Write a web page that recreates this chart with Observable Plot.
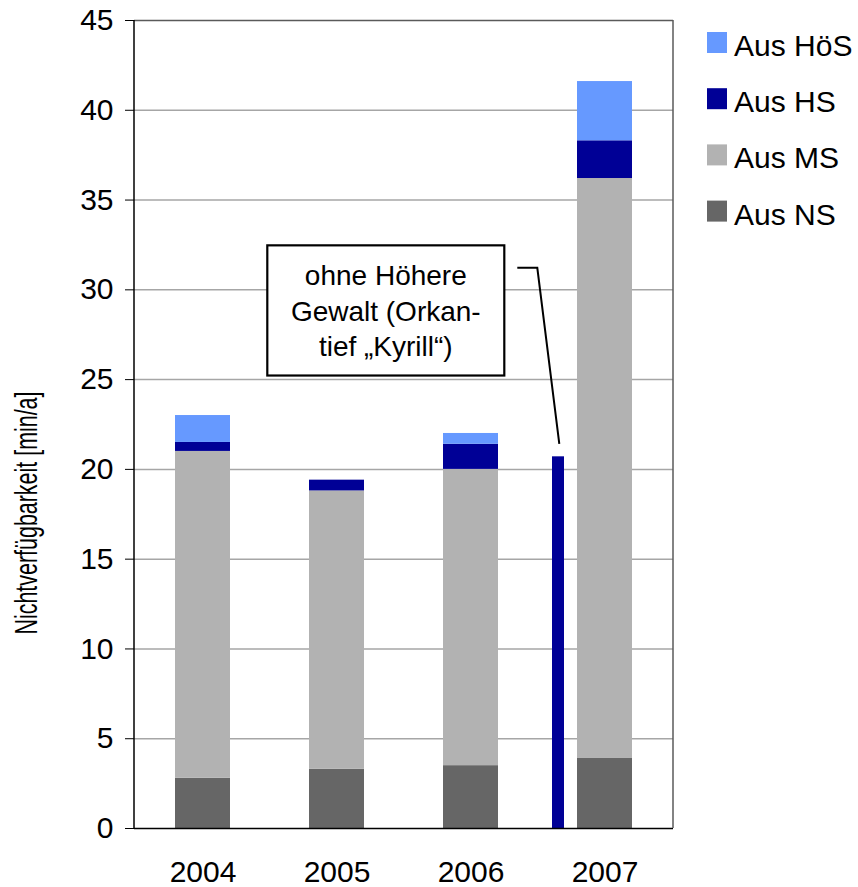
<!DOCTYPE html>
<html><head><meta charset="utf-8">
<script src="https://cdn.jsdelivr.net/npm/d3@7"></script>
<script src="https://cdn.jsdelivr.net/npm/@observablehq/plot@0.6"></script>
<style>
body{margin:0;background:#fff;}
#wrap{position:relative;width:858px;height:887px;}
</style>
</head><body><div id="wrap"></div>
<script>
// ---- data ----
const years = ["2004", "2005", "2006", "2007"];
const seriesNames = ["Aus NS", "Aus MS", "Aus HS", "Aus HöS"]; // bottom -> top
const seriesColors = ["#666666", "#b2b2b2", "#000096", "#6699ff"];
const ausNS  = [2.8, 3.3, 3.5, 3.9];
const ausMS  = [18.2, 15.5, 16.5, 32.3];
const ausHS  = [0.5, 0.6, 1.4, 2.1];
const ausHoS = [1.5, 0.0, 0.6, 3.3];
const ohneHoehereGewalt = [{year: "2007", value: 20.7}];
const yTicks = [0, 5, 10, 15, 20, 25, 30, 35, 40, 45];
const yLabel = "Nichtverfügbarkeit [min/a]";
const annotationLines = ["ohne Höhere", "Gewalt (Orkan-", "tief „Kyrill“)"];
const legendOrder = ["Aus HöS", "Aus HS", "Aus MS", "Aus NS"];

const seriesValues = [ausNS, ausMS, ausHS, ausHoS];
const rows = years.flatMap((yr, i) => seriesNames.map((s, j) => ({year: yr, series: s, value: seriesValues[j][i]})));

const FONT = "'Liberation Sans', Arial, Helvetica, sans-serif";

const plot = Plot.plot({
  width: 858, height: 887,
  marginLeft: 134, marginRight: 185, marginTop: 20, marginBottom: 59,
  style: {fontFamily: FONT, fontSize: "30px", color: "#000", background: "transparent", overflow: "visible"},
  x: {domain: years, paddingInner: 0.587, paddingOuter: 0.2935, label: null},
  y: {domain: [0, 45], label: null},
  color: {domain: seriesNames, range: seriesColors},
  marks: [
    Plot.gridY(yTicks.filter(t => t > 0 && t < 45), {stroke: "#a6a6a6", strokeOpacity: 1, strokeWidth: 1.5}),
    Plot.barY(rows, {x: "year", y: "value", fill: "series", order: seriesNames}),
    Plot.barY(ohneHoehereGewalt, {x: "year", y: "value", fill: "#000096", dx: -46.5, insetLeft: 21.5, insetRight: 21.5}),
    Plot.ruleY([45], {stroke: "#5a5a5a", strokeWidth: 1.5}),
    Plot.ruleY([0], {stroke: "#000", strokeWidth: 1.5}),
    Plot.axisY({ticks: yTicks, tickSize: 9, tickPadding: 12, fontSize: 30, label: null, stroke: "#000"}),
    Plot.axisX({tickSize: 0, tickPadding: 32, fontSize: 30, label: null})
  ]
});
document.getElementById("wrap").appendChild(plot);

const svg = d3.select(plot);
const xS = plot.scale("x"), yS = plot.scale("y"), cS = plot.scale("color");
const [xL, xR] = xS.range;
const yTop = yS.apply(45), yBot = yS.apply(0);

// frame lines
svg.append("line").attr("x1", xR).attr("x2", xR).attr("y1", yTop).attr("y2", yBot)
  .attr("stroke", "#5a5a5a").attr("stroke-width", 1.5);
svg.append("line").attr("x1", xL).attr("x2", xL).attr("y1", yTop).attr("y2", yBot)
  .attr("stroke", "#000").attr("stroke-width", 1.5);

// y-axis title
svg.append("text")
  .attr("transform", `translate(37,513) rotate(-90)`)
  .attr("text-anchor", "middle")
  .attr("font-family", FONT).attr("font-size", 31)
  .attr("textLength", 243).attr("lengthAdjust", "spacingAndGlyphs")
  .attr("fill", "#000")
  .text(yLabel);

// legend
const lg = svg.append("g").attr("text-anchor", "start");
legendOrder.forEach((name, i) => {
  const y0 = 32 + i * 56.2;
  lg.append("rect").attr("x", 707).attr("y", y0).attr("width", 20).attr("height", 21).attr("fill", cS.apply(name));
  lg.append("text").attr("x", 734).attr("y", y0 + 24).attr("text-anchor", "start")
    .attr("font-family", FONT).attr("font-size", 30).attr("fill", "#000").text(name);
});

// annotation
const cx = xS.apply("2007") + xS.bandwidth / 2 - 46.5;
const boxL = cx - 290.7, boxR = cx - 53.7;
const boxT = yS.apply(32.45), boxB = yS.apply(25.2);
const ann = svg.append("g");
ann.append("polyline")
  .attr("points", [[cx - 40.7, yS.apply(31.2)], [cx - 20.7, yS.apply(31.2)], [cx + 1.3, yS.apply(21.4)]].map(p => p.join(",")).join(" "))
  .attr("fill", "none").attr("stroke", "#000").attr("stroke-width", 2);
ann.append("rect").attr("x", boxL).attr("y", boxT).attr("width", boxR - boxL).attr("height", boxB - boxT)
  .attr("fill", "#fff").attr("stroke", "#000").attr("stroke-width", 2.2);
annotationLines.forEach((t, i) => {
  ann.append("text").attr("x", (boxL + boxR) / 2).attr("y", boxT + 40 + i * 35.5)
    .attr("text-anchor", "middle").attr("font-family", FONT).attr("font-size", 28).attr("fill", "#000").text(t);
});
</script>
</body></html>
